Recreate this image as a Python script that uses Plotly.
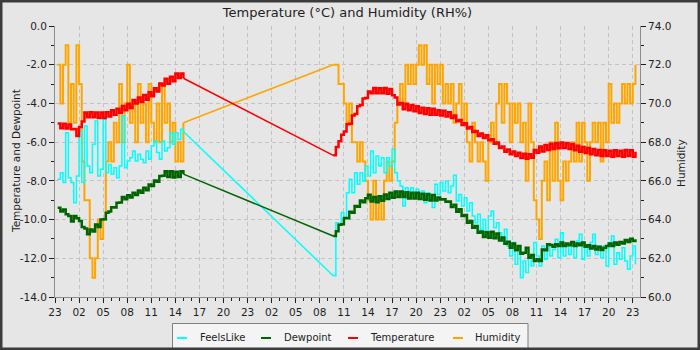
import pandas as pd
import plotly.graph_objects as go

# ---- readings, every 20 minutes, two logging sessions ----
SESSION1_START = "2024-03-10 23:20"
SESSION2_START = "2024-03-12 09:40"
STEP = "20min"

feels1 = [-7.92, -7.58, -8.09, -5.51, -7.84, -8.09, -9.13, -7.75, -5.42, -8.09, -5.17, -7.23,
          -7.58, -6.11, -4.91, -7.75, -7.40, -4.82, -7.58, -7.15, -7.66, -7.32, -7.84, -7.23,
          -4.65, -7.32, -6.97, -6.80, -6.46, -6.97, -6.63, -6.89, -7.06, -6.46, -6.89, -6.20,
          -5.94, -6.54, -6.89, -5.94, -6.46, -6.29, -5.51, -6.11, -5.51, -5.86, -5.34, -5.45]
dew1 = [-9.39, -9.58, -9.48, -9.72, -9.82, -10.10, -9.82, -9.93, -10.08, -10.38, -10.46, -10.76,
        -10.51, -10.62, -10.25, -10.38, -9.99, -9.98, -9.65, -9.58, -9.36, -9.38, -9.13, -9.12,
        -8.84, -8.95, -8.74, -8.86, -8.62, -8.73, -8.50, -8.62, -8.36, -8.48, -8.19, -8.26,
        -7.98, -8.04, -7.75, -7.74, -7.50, -7.80, -7.50, -7.83, -7.53, -7.80, -7.50, -7.65]
temp1 = [-5.04, -5.28, -5.05, -5.30, -5.09, -5.33, -5.32, -5.68, -5.22, -4.93, -4.47, -4.71,
         -4.45, -4.71, -4.47, -4.75, -4.47, -4.75, -4.45, -4.68, -4.35, -4.58, -4.27, -4.48,
         -4.13, -4.35, -4.02, -4.23, -3.82, -4.01, -3.70, -3.93, -3.57, -3.81, -3.42, -3.63,
         -3.22, -3.38, -2.97, -3.08, -2.73, -2.98, -2.62, -2.85, -2.45, -2.68, -2.45, -2.70]
hum1 = [72, 70, 72, 73, 69, 71, 69, 73, 71, 67, 65, 65,
        62, 61, 62, 64, 63, 64, 67, 68, 67, 69, 68, 71,
        68, 70, 72, 69, 70, 68, 71, 69, 70, 68, 71, 69,
        68, 70, 68, 71, 69, 70, 68, 69, 67, 68, 67, 69]

feels2 = [-12.90, -10.16, -10.25, -9.64, -9.90, -8.61, -7.92, -8.61, -7.58, -8.18, -7.58, -8.01,
          -7.23, -7.75, -6.46, -7.58, -6.72, -7.23, -6.80, -7.58, -6.80, -7.23, -6.37, -7.58,
          -8.01, -8.27, -9.30, -8.35, -8.52, -8.35, -8.61, -8.44, -8.70, -8.52, -9.13, -8.61,
          -8.95, -9.38, -8.18, -8.70, -8.09, -8.52, -8.01, -8.61, -8.27, -7.71, -9.04, -8.70,
          -9.30, -8.87, -9.56, -9.13, -9.82, -10.16, -9.73, -10.50, -9.99, -10.59, -9.82, -9.56,
          -10.42, -10.16, -10.68, -11.11, -10.50, -11.37, -11.88, -11.19, -12.31, -11.71, -13.00, -12.14,
          -12.74, -11.97, -12.40, -11.19, -11.88, -12.40, -11.37, -12.05, -11.28, -11.88, -11.54, -11.02,
          -11.97, -10.68, -11.88, -11.37, -11.80, -11.19, -11.97, -11.11, -10.76, -12.05, -11.37, -11.88,
          -11.19, -10.76, -11.80, -11.37, -11.97, -11.37, -12.40, -11.19, -10.85, -12.31, -11.71, -12.05,
          -11.45, -12.14, -12.57, -11.88, -11.37, -12.31]
dew2 = [-10.85, -10.60, -10.27, -10.24, -9.92, -9.93, -9.60, -9.65, -9.30, -9.34, -9.01, -9.10,
        -8.90, -8.72, -9.06, -8.84, -9.10, -8.80, -9.03, -8.70, -8.94, -8.62, -8.87, -8.55,
        -8.84, -8.55, -8.84, -8.59, -8.91, -8.61, -8.91, -8.62, -8.94, -8.66, -8.98, -8.69,
        -9.01, -8.73, -9.01, -8.86, -8.96, -8.95, -9.08, -9.07, -9.35, -9.24, -9.60, -9.47,
        -9.82, -9.76, -10.16, -10.07, -10.42, -10.33, -10.68, -10.62, -10.90, -10.66, -10.94, -10.63,
        -10.97, -10.72, -11.08, -10.93, -11.25, -11.14, -11.46, -11.24, -11.59, -11.36, -11.77, -11.71,
        -11.45, -11.97, -11.83, -12.14, -12.05, -12.14, -11.55, -11.59, -11.28, -11.32, -11.40, -11.28,
        -11.37, -11.19, -11.37, -11.23, -11.33, -11.16, -11.37, -11.23, -11.33, -11.19, -11.40, -11.33,
        -11.50, -11.37, -11.54, -11.40, -11.57, -11.45, -11.37, -11.23, -11.37, -11.19, -11.30, -11.16,
        -11.23, -11.06, -11.16, -10.99, -11.11, -11.02]
temp2 = [-6.68, -6.25, -5.95, -5.62, -5.45, -5.08, -5.05, -4.62, -4.55, -4.15, -4.08, -3.75,
         -3.72, -3.38, -3.48, -3.20, -3.48, -3.22, -3.48, -3.20, -3.50, -3.25, -3.58, -3.70,
         -4.05, -3.98, -4.30, -4.02, -4.35, -4.08, -4.40, -4.15, -4.50, -4.22, -4.55, -4.25,
         -4.58, -4.28, -4.58, -4.35, -4.62, -4.38, -4.68, -4.45, -4.75, -4.62, -4.92, -4.85,
         -5.12, -5.02, -5.30, -5.22, -5.48, -5.42, -5.68, -5.55, -5.78, -5.65, -5.90, -5.85,
         -6.08, -6.02, -6.30, -6.22, -6.50, -6.38, -6.62, -6.48, -6.72, -6.55, -6.82, -6.60,
         -6.86, -6.62, -6.80, -6.40, -6.55, -6.22, -6.48, -6.15, -6.40, -6.08, -6.35, -6.05,
         -6.32, -6.02, -6.30, -6.05, -6.35, -6.10, -6.42, -6.18, -6.50, -6.25, -6.56, -6.30,
         -6.62, -6.36, -6.68, -6.40, -6.72, -6.42, -6.72, -6.45, -6.75, -6.42, -6.72, -6.45,
         -6.75, -6.40, -6.72, -6.42, -6.75, -6.50]
hum2 = [72, 72, 71, 71, 70, 69, 70, 68, 68, 67, 68, 67,
        66, 65, 64, 66, 64, 65, 64, 66, 67, 66, 67, 69,
        70, 71, 70, 72, 71, 72, 71, 72, 73, 72, 73, 71,
        72, 70, 72, 71, 72, 70, 71, 70, 71, 69, 70, 71,
        69, 70, 68, 67, 69, 68, 67, 68, 67, 66, 68, 69,
        68, 70, 71, 69, 71, 70, 68, 70, 69, 70, 68, 69,
        66, 70, 68, 65, 64, 63, 66, 67, 65, 68, 66, 69,
        66, 65, 67, 66, 67, 68, 67, 69, 67, 69, 68, 66,
        68, 69, 68, 69, 67, 69, 68, 71, 69, 70, 69, 70,
        71, 70, 71, 70, 71, 72]

times1 = list(pd.date_range(SESSION1_START, periods=len(temp1), freq=STEP))
times2 = list(pd.date_range(SESSION2_START, periods=len(temp2), freq=STEP))

TEMP_TICKS = list(range(-14, 1, 2))
HUM_TICKS = list(range(60, 75, 2))

# ---- page geometry (pixels) ----
W, H = 700, 350
L, R, T, B = 55, 640, 26, 297


def px(x):
    return (x - L) / (R - L)


def py(y):
    return (B - y) / (B - T)


FONT = "DejaVu Sans"
INK = "#1e1e1e"
GRID = "#c4c4c4"
AXLINE = "#8c8c8c"

fig = go.Figure()


def add_series(name, part1, part2, colour, width, axis):
    """One logged series: two stepped sessions joined by a straight line over the outage."""
    line = dict(color=colour, width=width)
    gap_line = dict(color=colour, width=min(width, 1.5))
    fig.add_trace(go.Scatter(x=times1, y=part1, name=name, mode="lines",
                             line=dict(line, shape="hv"), yaxis=axis))
    fig.add_trace(go.Scatter(x=[times1[-1], times2[0]], y=[part1[-1], part2[0]],
                             name=name, mode="lines", line=gap_line, yaxis=axis,
                             showlegend=False))
    fig.add_trace(go.Scatter(x=times2, y=part2, name=name, mode="lines",
                             line=dict(line, shape="hv"), yaxis=axis,
                             showlegend=False))


# humidity sits on the base axis so it is painted underneath the temperatures
add_series("Humidity", hum1, hum2, "#ffa500", 2, "y")
add_series("FeelsLike", feels1, feels2, "#00ffff", 1.5, "y2")
add_series("Dewpoint", dew1, dew2, "#006400", 2.5, "y2")
add_series("Temperature", temp1, temp2, "#ff0000", 2.5, "y2")

tick_common = dict(ticks="outside", ticklen=5, tickcolor=INK, tickwidth=1,
                   showline=True, linecolor=AXLINE, linewidth=1, zeroline=False,
                   tickfont=dict(family=FONT, size=10.5, color=INK))

fig.update_layout(
    width=W, height=H,
    margin=dict(l=L, r=W - R, t=T, b=H - B, pad=0),
    paper_bgcolor="#e6e6e6", plot_bgcolor="#e6e6e6",
    showlegend=False,
    font=dict(family=FONT, color=INK),
    title=dict(text="Temperature (°C) and Humidity (RH%)", x=0.5, xref="paper",
               y=(H - 12) / H, yref="container", yanchor="middle", xanchor="center",
               font=dict(family=FONT, size=13, color=INK)),
    xaxis=dict(type="date",
               range=["2024-03-10 23:00", "2024-03-13 23:54"],
               tick0="2024-03-10 23:00", dtick=3 * 3600 * 1000, tickformat="%H",
               showgrid=True, gridcolor=GRID, griddash="4px,3px", gridwidth=1,
               minor=dict(dtick=3600 * 1000, ticks="outside", ticklen=3,
                          tickcolor=INK, showgrid=False),
               **tick_common),
    yaxis=dict(range=[60, 74], side="right",
               tickmode="array", tickvals=HUM_TICKS,
               ticktext=[f"{v:.1f}" for v in HUM_TICKS],
               showgrid=False,
               minor=dict(tickmode="linear", tick0=60, dtick=1, ticks="outside",
                          ticklen=3, tickcolor=INK, showgrid=False),
               **tick_common),
    yaxis2=dict(range=[-14, 0], side="left", overlaying="y",
                tickmode="array", tickvals=TEMP_TICKS,
                ticktext=[f"{v:.1f}" for v in TEMP_TICKS],
                showgrid=True, gridcolor=GRID, griddash="4px,3px", gridwidth=1,
                minor=dict(tickmode="linear", tick0=-14, dtick=1, ticks="outside",
                           ticklen=3, tickcolor=INK, showgrid=False),
                **tick_common),
)

# axis titles
fig.add_annotation(text="Temperature and Dewpoint", xref="paper", yref="paper",
                   x=px(15.5), y=py(161.5), textangle=-90, showarrow=False,
                   xanchor="center", yanchor="middle",
                   font=dict(family=FONT, size=10.5, color=INK))
fig.add_annotation(text="Humidity", xref="paper", yref="paper",
                   x=px(681), y=py(163), textangle=-90, showarrow=False,
                   xanchor="center", yanchor="middle",
                   font=dict(family=FONT, size=10.5, color=INK))

# legend box along the bottom edge
fig.add_shape(type="rect", xref="paper", yref="paper",
              x0=px(172.5), x1=px(528), y0=py(356), y1=py(323.5),
              fillcolor="#f4f4f4", line=dict(color="#7f7f7f", width=1), layer="above")
legend_items = [("FeelsLike", "#00ffff", 177, 197.5),
                ("Dewpoint", "#006400", 261, 281.5),
                ("Temperature", "#ff0000", 348, 368),
                ("Humidity", "#ffa500", 453, 473)]
for label, colour, sx, tx in legend_items:
    fig.add_shape(type="line", xref="paper", yref="paper",
                  x0=px(sx), x1=px(sx + 10), y0=py(338), y1=py(338),
                  line=dict(color=colour, width=2), layer="above")
    fig.add_annotation(text=label, xref="paper", yref="paper",
                       x=px(tx), y=py(337), showarrow=False,
                       xanchor="left", yanchor="middle",
                       font=dict(family=FONT, size=10, color=INK))

# dark frame round the whole page
fig.add_shape(type="rect", xref="paper", yref="paper",
              x0=px(0), x1=px(W), y0=py(H), y1=py(0),
              line=dict(color="#3c3c3c", width=5), fillcolor="rgba(0,0,0,0)",
              layer="above")

fig.write_html("out.html")
